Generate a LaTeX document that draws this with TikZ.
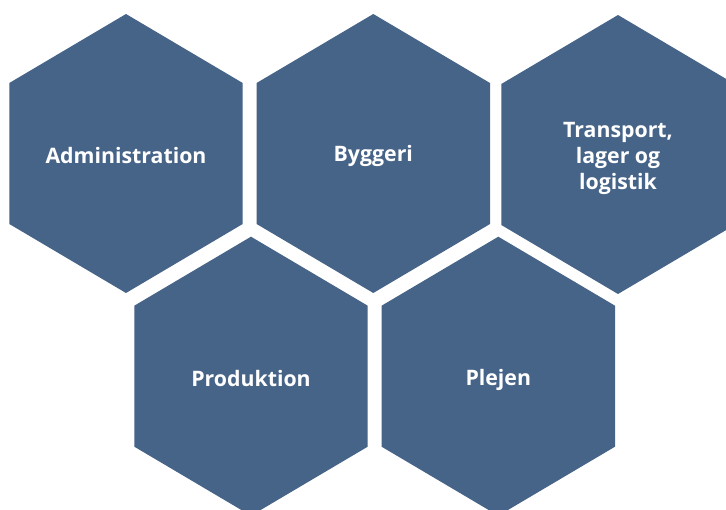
\documentclass[tikz,border=0pt]{standalone}
\usepackage{fontspec}
\setmainfont{Open Sans}[BoldFont={* Bold}]
\definecolor{hexblue}{RGB}{70,99,136}
\tikzset{
  hexlabel/.style={text=white, font=\fontsize{21.3}{26}\selectfont\bfseries, align=center, inner sep=0pt},
  hexfill/.style={fill=hexblue, draw=none}
}
\newcommand{\hexat}[2]{%
  \fill[hexfill] (#1,#2-139.5) -- (#1+116.7,#2-70.5) -- (#1+116.7,#2+70.5) -- (#1,#2+139.5) -- (#1-116.7,#2+70.5) -- (#1-116.7,#2-70.5) -- cycle;}
\begin{document}
\begin{tikzpicture}[x=1pt,y=-1pt]
\useasboundingbox (0,0) rectangle (726,510);
\begin{scope}
\clip (0,0) rectangle (726,510);
\hexat{126}{153.5}
\hexat{373.3}{153.5}
\hexat{618}{154.5}
\hexat{251}{376.2}
\hexat{498.3}{376.2}
\end{scope}
\node[hexlabel] (adm) at (126,155.5) {Administration};
\node[hexlabel] (byg) at (373.3,156) {Byggeri};
\node[hexlabel] (tra) at (618,158.5) {Transport,\\lager og\\logistik};
\node[hexlabel] (pro) at (251,378.5) {Produktion};
\node[hexlabel] (ple) at (498.3,380) {Plejen};
\end{tikzpicture}
\end{document}
